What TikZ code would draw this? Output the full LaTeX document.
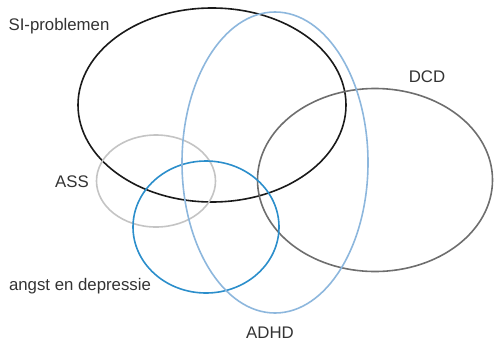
\documentclass[tikz,border=0pt]{standalone}
\usepackage{fontspec}
\setmainfont{Liberation Sans}
\usetikzlibrary{shapes.geometric}

\definecolor{txtgray}{HTML}{333333}
\definecolor{sicol}{HTML}{1A1A1A}
\definecolor{adhdcol}{HTML}{8DB7DD}
\definecolor{dcdcol}{HTML}{6E6E6E}
\definecolor{asscol}{HTML}{C4C4C4}
\definecolor{angstcol}{HTML}{2B8ECB}

\begin{document}
\begin{tikzpicture}[
  x=1pt, y=-1pt,
  set/.style={ellipse, draw, line width=1.6pt, inner sep=0pt},
  lbl/.style={text=txtgray, font=\fontsize{16.8}{19}\selectfont, inner sep=0pt}
]
  \useasboundingbox (0,0) rectangle (494,343);

  % the five sets
  \node[set, draw=sicol, minimum width=268pt, minimum height=194pt] (si) at (212,105) {};
  \node[set, draw=asscol, minimum width=119pt, minimum height=92pt] (ass) at (156,181) {};
  \node[set, draw=dcdcol, minimum width=235pt, minimum height=183pt] (dcd) at (375,180) {};
  \node[set, draw=angstcol, minimum width=146pt, minimum height=132pt] (angst) at (206,227) {};
  \node[set, draw=adhdcol, minimum width=186pt, minimum height=301pt] (adhd) at (275,162.5) {};

  % names
  \node[lbl] (silbl) at (59,26) {SI-problemen};
  \node[lbl] (dcdlbl) at (427,77) {DCD};
  \node[lbl] (asslbl) at (72,182) {ASS};
  \node[lbl] (angstlbl) at (80,286) {angst en depressie};
  \node[lbl] (adhdlbl) at (270,333) {ADHD};
\end{tikzpicture}
\end{document}
